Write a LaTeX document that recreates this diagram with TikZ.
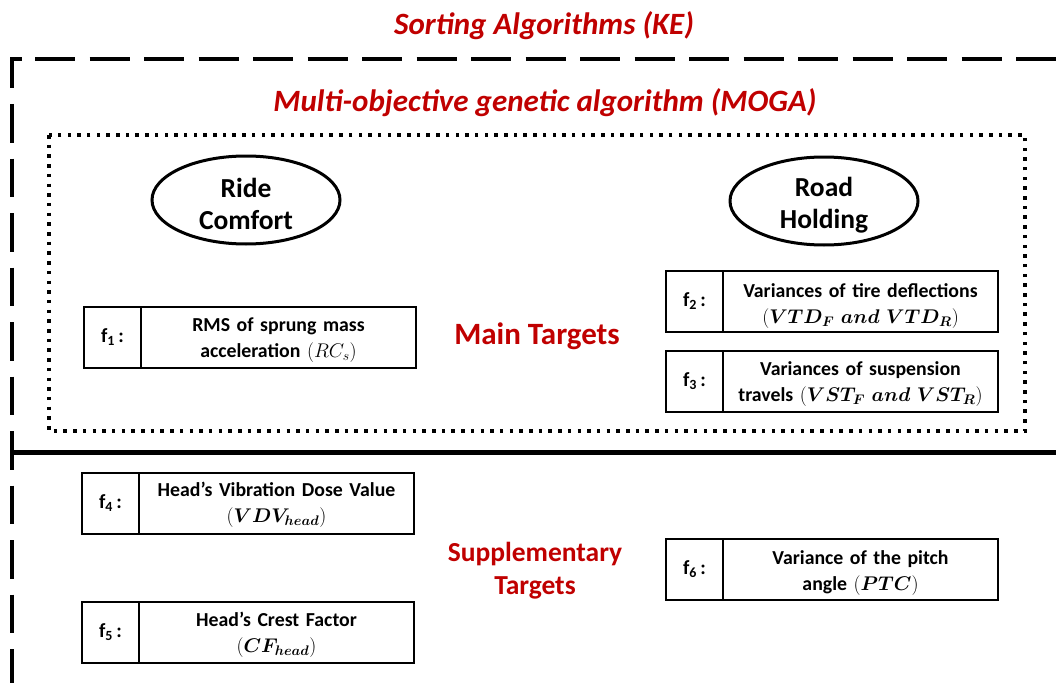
\RequirePackage{fix-cm}
\documentclass[tikz,border=0pt]{standalone}
\usepackage{amsmath}
\usepackage{bm}
\usepackage{fontspec}
\setmainfont{Carlito}
\usetikzlibrary{shapes.geometric}
\definecolor{headred}{HTML}{C00000}

\tikzset{
  heading/.style={text=headred, font=\fontsize{31}{36}\selectfont\bfseries\itshape, inner sep=0pt},
  group/.style={text=headred, font=\fontsize{31}{34}\selectfont\bfseries, align=center, inner sep=0pt},
  subgroup/.style={group, font=\fontsize{27.5}{33}\selectfont\bfseries},
  category/.style={draw, line width=3pt, ellipse, minimum width=188pt, minimum height=88pt, inner sep=0pt},
  cattext/.style={align=center, inner sep=0pt, font=\fontsize{27.5}{32}\selectfont\bfseries},
  labcell/.style={draw, line width=2pt, minimum width=57pt, minimum height=61pt,
    anchor=west, inner sep=0pt, outer sep=0pt, font=\fontsize{20}{25}\selectfont\bfseries},
  textcell/.style={draw, line width=2pt, minimum width=275pt, minimum height=61pt,
    anchor=west, inner sep=0pt, outer sep=0pt},
  celltext/.style={inner sep=0pt, text width=270pt, align=center,
    font=\fontsize{19.8}{26}\selectfont\bfseries},
  frameline/.style={line width=4pt},
  dotline/.style={line width=3.5pt, dash pattern=on 3.5pt off 6.2pt}
}

\begin{document}
\begin{tikzpicture}[x=1pt,y=-1pt]
\useasboundingbox (0,0) rectangle (1056,682);

% outer dashed frame (open to the right and bottom)
\coordinate (cstart) at (21.5,59);
\coordinate (corner) at (12,59);
\coordinate (cbottom) at (12,700);
\coordinate (cright) at (1070,59);
\draw[frameline, dash pattern=on 38.5pt off 16pt] (cstart) -- (corner) -- (cbottom);
\draw[frameline, dash pattern=on 40pt off 14.5pt, dash phase=41pt] (cstart) -- (cright);

% solid separator between main and supplementary targets
\coordinate (sepl) at (10,452);
\coordinate (sepr) at (1060,452);
\draw[line width=5pt] (sepl) -- (sepr);

% dotted frame around the MOGA targets
\coordinate (dtl) at (49,135);
\coordinate (dbr) at (1025,431);
\draw[dotline] (dtl) rectangle (dbr);

% headings
\node[heading] (sort) at (544,26) {Sorting Algorithms (KE)};
\node[heading] (moga) at (545,103) {Multi-objective genetic algorithm (MOGA)};
\node[group] (main) at (537,336) {Main Targets};
\node[subgroup] (supp) at (535,571) {Supplementary\\Targets};

% target categories
\node[category] (ride) at (246,200) {};
\node[cattext] (ridet) at (246,203.5) {Ride\\Comfort};
\node[category] (road) at (824,201) {};
\node[cattext] (roadt) at (824,205) {Road\\Holding};

% objective functions: label cell + description cell
\node[labcell] (l1) at (84,337.5) {f\textsubscript{1}\,:};
\node[textcell] (t1) at (l1.east) {};
\node[celltext] (d1) at ([yshift=-3pt]t1.center) {RMS of sprung mass\\acceleration $(RC_s)$};

\node[labcell] (l2) at (666,301) {f\textsubscript{2}\,:};
\node[textcell] (t2) at (l2.east) {};
\node[celltext] (d2) at ([yshift=-5pt]t2.center) {Variances of tire deflections\\$(\bm{VTD_F\ and\ VTD_R})$};

\node[labcell] (l3) at (666,381.5) {f\textsubscript{3}\,:};
\node[textcell] (t3) at (l3.east) {};
\node[celltext] (d3) at ([yshift=-3pt]t3.center) {Variances of suspension\\travels $(\bm{VST_F\ and\ VST_R})$};

\node[labcell] (l4) at (82,503) {f\textsubscript{4}\,:};
\node[textcell] (t4) at (l4.east) {};
\node[celltext] (d4) at ([yshift=-2pt]t4.center) {Head’s Vibration Dose Value\\$(\bm{VDV_{head}})$};

\node[labcell] (l5) at (82,632.5) {f\textsubscript{5}\,:};
\node[textcell] (t5) at (l5.east) {};
\node[celltext] (d5) at ([yshift=-2pt]t5.center) {Head’s Crest Factor\\$(\bm{CF_{head}})$};

\node[labcell] (l6) at (666,569) {f\textsubscript{6}\,:};
\node[textcell] (t6) at (l6.east) {};
\node[celltext] (d6) at ([yshift=-4pt]t6.center) {Variance of the pitch\\angle $(\bm{PTC})$};
\end{tikzpicture}
\end{document}
